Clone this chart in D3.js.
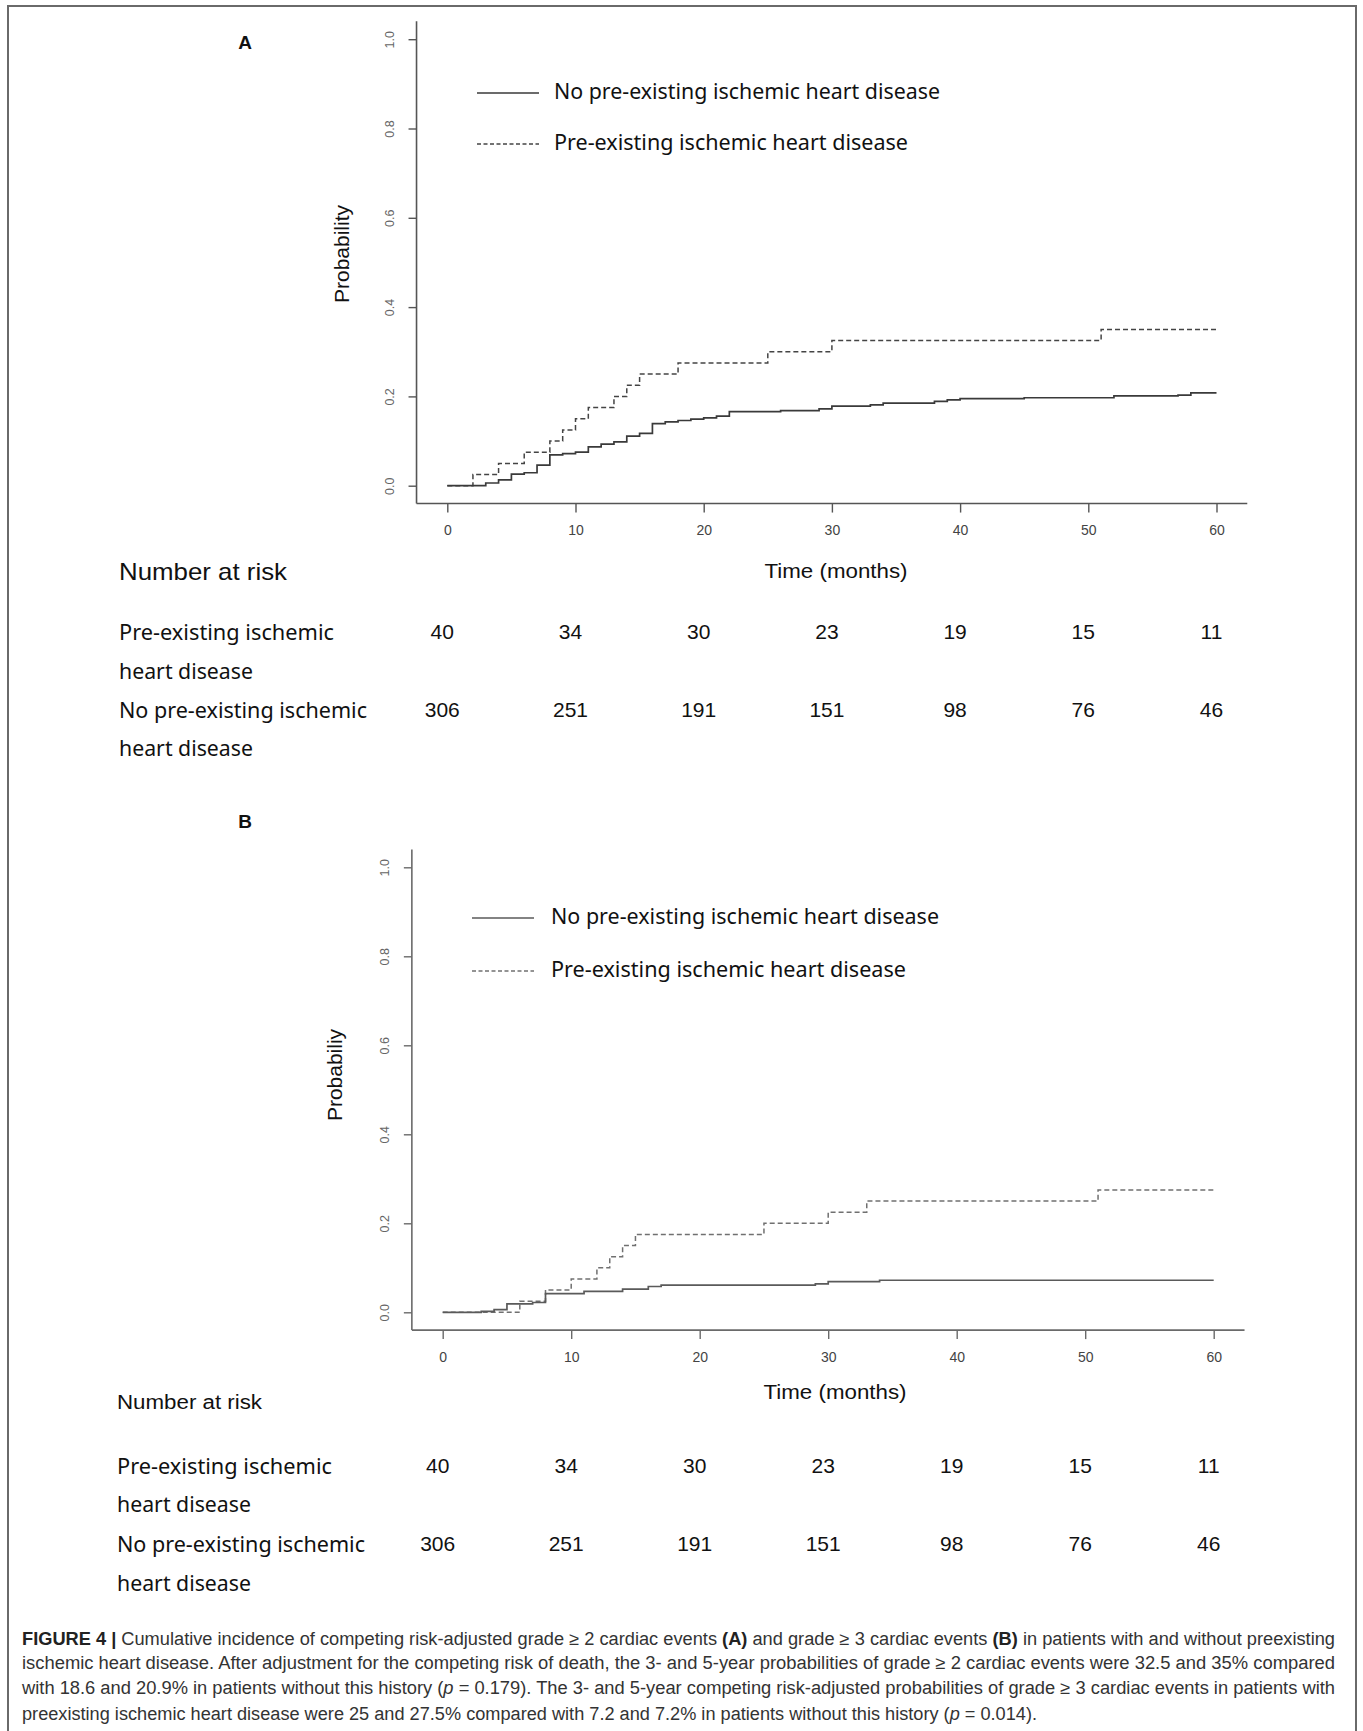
<!DOCTYPE html>
<html>
<head>
<meta charset="utf-8">
<script src="https://cdn.jsdelivr.net/npm/d3@7"></script>
<style>
  html, body { margin: 0; padding: 0; background: #fff; }
  svg { display: block; }
</style>
</head>
<body>
<svg id="chart" width="1363" height="1731"></svg>
<script>
// ---------------- DATA ----------------
const xTickValues = [0, 10, 20, 30, 40, 50, 60];
const yTickValues = [0, 0.2, 0.4, 0.6, 0.8, 1.0];
const yTickLabels = ["0.0", "0.2", "0.4", "0.6", "0.8", "1.0"];

// Panel A: grade >= 2 cardiac events
const timesA_no = [0, 3, 4, 5, 6, 7, 8, 9, 10, 11, 12, 13, 14, 15, 16, 17, 18, 19, 20, 21, 22, 26, 29, 30, 33, 34, 38, 39, 40, 45, 52, 57, 58, 60];
const probA_no  = [0, 0.006, 0.013, 0.026, 0.029, 0.046, 0.069, 0.072, 0.075, 0.087, 0.093, 0.098, 0.111, 0.117, 0.139, 0.143, 0.146, 0.149, 0.152, 0.156, 0.166, 0.168, 0.172, 0.178, 0.181, 0.185, 0.189, 0.192, 0.195, 0.197, 0.201, 0.203, 0.208, 0.208];
const timesA_pre = [0, 2, 4, 6, 8, 9, 10, 11, 13, 14, 15, 18, 25, 30, 51, 60];
const probA_pre  = [0, 0.025, 0.05, 0.075, 0.1, 0.125, 0.15, 0.175, 0.2, 0.225, 0.25, 0.275, 0.3, 0.325, 0.35, 0.35];

// Panel B: grade >= 3 cardiac events
const timesB_no = [0, 3, 4, 5, 7, 8, 11, 14, 16, 17, 29, 30, 34, 60];
const probB_no  = [0, 0.002, 0.006, 0.019, 0.022, 0.042, 0.047, 0.052, 0.058, 0.061, 0.064, 0.069, 0.072, 0.072];
const timesB_pre = [0, 6, 8, 10, 12, 13, 14, 15, 25, 30, 33, 51, 60];
const probB_pre  = [0, 0.025, 0.05, 0.075, 0.1, 0.125, 0.15, 0.175, 0.2, 0.225, 0.25, 0.275, 0.275];

// Number at risk
const riskTimes = [0, 10, 20, 30, 40, 50, 60];
const riskPre = [40, 34, 30, 23, 19, 15, 11];
const riskNo  = [306, 251, 191, 151, 98, 76, 46];

const legendLabels = ["No pre-existing ischemic heart disease", "Pre-existing ischemic heart disease"];
const riskRowLabels = [["Pre-existing ischemic", "heart disease"], ["No pre-existing ischemic", "heart disease"]];

const captionLines = [
  [["FIGURE 4 | ", "b"], ["Cumulative incidence of competing risk-adjusted grade ≥ 2 cardiac events ", ""], ["(A)", "b"], [" and grade ≥ 3 cardiac events ", ""], ["(B)", "b"], [" in patients with and without preexisting", ""]],
  [["ischemic heart disease. After adjustment for the competing risk of death, the 3- and 5-year probabilities of grade ≥ 2 cardiac events were 32.5 and 35% compared", ""]],
  [["with 18.6 and 20.9% in patients without this history (", ""], ["p", "i"], [" = 0.179). The 3- and 5-year competing risk-adjusted probabilities of grade ≥ 3 cardiac events in patients with", ""]],
  [["preexisting ischemic heart disease were 25 and 27.5% compared with 7.2 and 7.2% in patients without this history (", ""], ["p", "i"], [" = 0.014).", ""]]
];

// ---------------- DRAW ----------------
const svg = d3.select("#chart");

// outer frame
svg.append("rect")
  .attr("x", 8).attr("y", 6).attr("width", 1348).attr("height", 1760)
  .attr("fill", "none").attr("stroke", "#6a6a6a").attr("stroke-width", 2);

const condensed = "'Liberation Sans Narrow', 'Arial Narrow', 'Liberation Sans', Arial, sans-serif";
const humanist = "'Noto Sans', 'Open Sans', sans-serif";
const sans = "'Liberation Sans', Arial, Helvetica, sans-serif";

function drawPanel(p) {
  const g = svg.append("g");
  const x = d3.scaleLinear().domain([0, 60]).range([p.x0, p.x60]);
  const y = d3.scaleLinear().domain([0, 1]).range([p.y0, p.y1]);

  // axis lines (R-style L box spanning the extended region)
  const xLo = x(-2.4), xHi = x(62.4), yLo = y(-0.04), yHi = y(1.04);
  g.append("line").attr("x1", xLo).attr("x2", xLo).attr("y1", yHi).attr("y2", yLo)
    .attr("stroke", p.axisColor).attr("stroke-width", 1.6);
  g.append("line").attr("x1", xLo).attr("x2", xHi).attr("y1", yLo).attr("y2", yLo)
    .attr("stroke", p.axisColor).attr("stroke-width", 1.6);

  // x axis ticks
  const gx = g.append("g").attr("transform", `translate(0,${yLo})`)
    .call(d3.axisBottom(x).tickValues(xTickValues).tickFormat(d3.format("d")).tickSize(9).tickPadding(13));
  gx.select(".domain").remove();
  gx.selectAll(".tick line").attr("stroke", p.axisColor).attr("stroke-width", 1.4);
  gx.selectAll(".tick text").attr("font-family", condensed).attr("font-size", 14)
    .attr("fill", "#444");

  // y axis ticks with rotated labels
  const gy = g.append("g").attr("transform", `translate(${xLo},0)`)
    .call(d3.axisLeft(y).tickValues(yTickValues).tickFormat((d, i) => yTickLabels[i]).tickSize(8));
  gy.select(".domain").remove();
  gy.selectAll(".tick line").attr("stroke", p.axisColor).attr("stroke-width", 1.4);
  gy.selectAll(".tick text")
    .attr("x", 0).attr("dy", "0.35em")
    .attr("transform", "translate(-27,0) rotate(-90)")
    .attr("text-anchor", "middle")
    .attr("font-family", sans).attr("font-size", 12.5).attr("fill", "#666");

  // y axis title
  g.append("text")
    .attr("transform", `translate(${p.ylabX},${p.ylabY}) rotate(-90)`)
    .attr("text-anchor", "middle").attr("dy", "0.35em")
    .attr("font-family", sans).attr("font-size", 21).attr("fill", "#111")
    .text(p.ylab);

  // panel letter
  g.append("text").attr("x", p.letterX).attr("y", p.letterY).attr("dy", "0.35em")
    .attr("text-anchor", "middle").attr("font-family", sans).attr("font-weight", "bold")
    .attr("font-size", 19).attr("fill", "#111").text(p.letter);

  // curves
  const stepLine = d3.line().curve(d3.curveStepAfter).x(d => x(d[0])).y(d => y(d[1]));
  g.append("path").datum(d3.zip(p.tPre, p.pPre)).attr("d", stepLine)
    .attr("fill", "none").attr("stroke", p.dashColor).attr("stroke-width", 1.5)
    .attr("stroke-dasharray", "5,3");
  g.append("path").datum(d3.zip(p.tNo, p.pNo)).attr("d", stepLine)
    .attr("fill", "none").attr("stroke", p.solidColor).attr("stroke-width", 1.7);

  // legend
  const leg = [
    { y: p.legY[0], color: p.solidColor, dash: null, w: p.legW[0] },
    { y: p.legY[1], color: p.dashColor, dash: "4,2.5", w: p.legW[1] }
  ];
  leg.forEach((l, i) => {
    g.append("line").attr("x1", p.legX1).attr("x2", p.legX2).attr("y1", l.y).attr("y2", l.y)
      .attr("stroke", l.color).attr("stroke-width", 1.4)
      .attr("stroke-dasharray", l.dash);
    g.append("text").attr("x", p.legTX).attr("y", l.y + 6)
      .attr("font-family", humanist).attr("font-size", 22).attr("fill", "#111")
      .attr("textLength", l.w).attr("lengthAdjust", "spacingAndGlyphs")
      .text(legendLabels[i]);
  });

  // Number at risk header + time label
  g.append("text").attr("x", p.narX).attr("y", p.narY).attr("dy", "0.35em")
    .attr("font-family", sans).attr("font-size", p.narSize).attr("fill", "#111")
    .attr("textLength", p.narW).attr("lengthAdjust", "spacingAndGlyphs")
    .text("Number at risk");
  g.append("text").attr("x", p.timeX).attr("y", p.timeY).attr("dy", "0.35em")
    .attr("text-anchor", "middle")
    .attr("font-family", sans).attr("font-size", 21).attr("fill", "#111")
    .attr("textLength", 143).attr("lengthAdjust", "spacingAndGlyphs")
    .text("Time (months)");

  // risk table
  const rowWidths = [[215, 134], [248, 134]];
  riskRowLabels.forEach((lbls, r) => {
    lbls.forEach((t, k) => {
      g.append("text").attr("x", p.narX).attr("y", p.rowY[r * 2 + k]).attr("dy", "0.35em")
        .attr("font-family", humanist).attr("font-size", 22).attr("fill", "#111")
        .attr("textLength", rowWidths[r][k]).attr("lengthAdjust", "spacingAndGlyphs")
        .text(t);
    });
  });
  [riskPre, riskNo].forEach((vals, r) => {
    g.selectAll(null).data(vals).join("text")
      .attr("x", (d, i) => x(riskTimes[i]) - 5)
      .attr("y", p.rowY[r * 2]).attr("dy", "0.35em")
      .attr("text-anchor", "middle")
      .attr("font-family", sans).attr("font-size", 21).attr("fill", "#111")
      .text(d => d);
  });
}

drawPanel({
  letter: "A", letterX: 245, letterY: 42,
  x0: 447.3, x60: 1216.5, y0: 485.7, y1: 39.2,
  axisColor: "#555", solidColor: "#3a3a3a", dashColor: "#444",
  ylab: "Probability", ylabX: 342, ylabY: 254,
  tNo: timesA_no, pNo: probA_no, tPre: timesA_pre, pPre: probA_pre,
  legX1: 477, legX2: 539, legTX: 554, legY: [93, 144], legW: [386, 354],
  narX: 119, narY: 572, narSize: 24, narW: 168,
  timeX: 836, timeY: 571,
  rowY: [632, 671, 710, 748]
});

drawPanel({
  letter: "B", letterX: 245, letterY: 821,
  x0: 442.7, x60: 1213.7, y0: 1312.3, y1: 867.3,
  axisColor: "#6a6a6a", solidColor: "#5a5a5a", dashColor: "#707070",
  ylab: "Probabiliy", ylabX: 335, ylabY: 1075,
  tNo: timesB_no, pNo: probB_no, tPre: timesB_pre, pPre: probB_pre,
  legX1: 472, legX2: 534, legTX: 551, legY: [918, 971], legW: [388, 355],
  narX: 117, narY: 1402, narSize: 20, narW: 145,
  timeX: 835, timeY: 1392,
  rowY: [1466, 1504, 1544, 1583]
});

// caption
const capBase = [1645, 1669, 1694, 1720];
const capWidths = [1313, 1313, 1313, 1015];
captionLines.forEach((segs, i) => {
  const t = svg.append("text").attr("x", 22).attr("y", capBase[i])
    .attr("font-family", sans).attr("font-size", 18).attr("fill", "#333")
    .attr("textLength", capWidths[i]).attr("lengthAdjust", "spacingAndGlyphs");
  segs.forEach(s => {
    const ts = t.append("tspan").text(s[0]);
    if (s[1] === "b") ts.attr("font-weight", "bold").attr("fill", "#222");
    if (s[1] === "i") ts.attr("font-style", "italic");
  });
});
</script>
</body>
</html>
